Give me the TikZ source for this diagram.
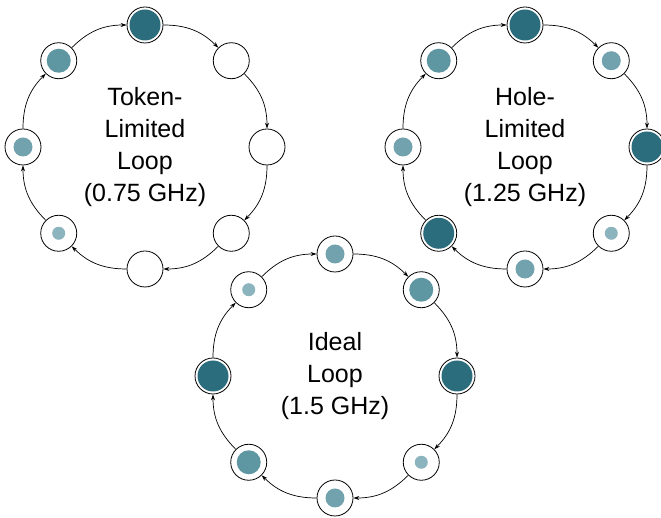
\documentclass[tikz,border=0pt]{standalone}
\usepackage{fontspec}
\setmainfont{Liberation Sans}
\usepackage{tikz}
\usetikzlibrary{positioning, arrows.meta, calc}
\definecolor{tealfull}{HTML}{2B6D7D}
\definecolor{tealhigh}{HTML}{5E96A2}
\definecolor{tealmid}{HTML}{72A2AD}
\definecolor{teallow}{HTML}{8CB4BE}

\begin{document}
\begin{tikzpicture}
[x=1pt, y=1pt,
 slot/.style={circle, draw=black, line width=0.8pt, fill=white, inner sep=0pt, minimum size=36pt},
 full/.style={slot, path picture={\fill[tealfull] (path picture bounding box.center) circle (15.5pt);}},
 high/.style={slot, path picture={\fill[tealhigh] (path picture bounding box.center) circle (12pt);}},
 mid/.style={slot, path picture={\fill[tealmid] (path picture bounding box.center) circle (9.5pt);}},
 low/.style={slot, path picture={\fill[teallow] (path picture bounding box.center) circle (6.5pt);}},
 ->/.style={line width=0.7pt, arrows={-{Stealth[length=6pt, width=4pt]}}},
 looplabel/.style={align=center, font=\fontsize{25}{32}\selectfont}]

\useasboundingbox (0,0) rectangle (661,518);

% ring centres
\coordinate (tok) at (145,371);
\coordinate (hol) at (525,371);
\coordinate (idl) at (335,142);

% token-limited loop
\node[full] (t1) at ($(tok)+(90:122pt)$) {};
\node[slot] (t2) at ($(tok)+(45:122pt)$) {};
\node[slot] (t3) at ($(tok)+(0:122pt)$) {};
\node[slot] (t4) at ($(tok)+(-45:122pt)$) {};
\node[slot] (t5) at ($(tok)+(-90:122pt)$) {};
\node[low]  (t6) at ($(tok)+(-135:122pt)$) {};
\node[mid]  (t7) at ($(tok)+(180:122pt)$) {};
\node[high] (t8) at ($(tok)+(135:122pt)$) {};
\node[looplabel] at (tok) {Token-\\Limited\\Loop\\(0.75 GHz)};

% hole-limited loop
\node[full] (h1) at ($(hol)+(90:122pt)$) {};
\node[mid]  (h2) at ($(hol)+(45:122pt)$) {};
\node[full] (h3) at ($(hol)+(0:122pt)$) {};
\node[low]  (h4) at ($(hol)+(-45:122pt)$) {};
\node[mid]  (h5) at ($(hol)+(-90:122pt)$) {};
\node[full] (h6) at ($(hol)+(-135:122pt)$) {};
\node[mid]  (h7) at ($(hol)+(180:122pt)$) {};
\node[high] (h8) at ($(hol)+(135:122pt)$) {};
\node[looplabel] at (hol) {Hole-\\Limited\\Loop\\(1.25 GHz)};

% ideal loop
\node[mid]  (i1) at ($(idl)+(90:122pt)$) {};
\node[high] (i2) at ($(idl)+(45:122pt)$) {};
\node[full] (i3) at ($(idl)+(0:122pt)$) {};
\node[low]  (i4) at ($(idl)+(-45:122pt)$) {};
\node[mid]  (i5) at ($(idl)+(-90:122pt)$) {};
\node[high] (i6) at ($(idl)+(-135:122pt)$) {};
\node[full] (i7) at ($(idl)+(180:122pt)$) {};
\node[low]  (i8) at ($(idl)+(135:122pt)$) {};
\node[looplabel] at (idl) {Ideal\\Loop\\(1.5 GHz)};

% clockwise links
\foreach \r in {t, h, i} {
  \draw [->] (\r1) to[bend left=22.5] (\r2);
  \draw [->] (\r2) to[bend left=22.5] (\r3);
  \draw [->] (\r3) to[bend left=22.5] (\r4);
  \draw [->] (\r4) to[bend left=22.5] (\r5);
  \draw [->] (\r5) to[bend left=22.5] (\r6);
  \draw [->] (\r6) to[bend left=22.5] (\r7);
  \draw [->] (\r7) to[bend left=22.5] (\r8);
  \draw [->] (\r8) to[bend left=22.5] (\r1);
}

\end{tikzpicture}
\end{document}
